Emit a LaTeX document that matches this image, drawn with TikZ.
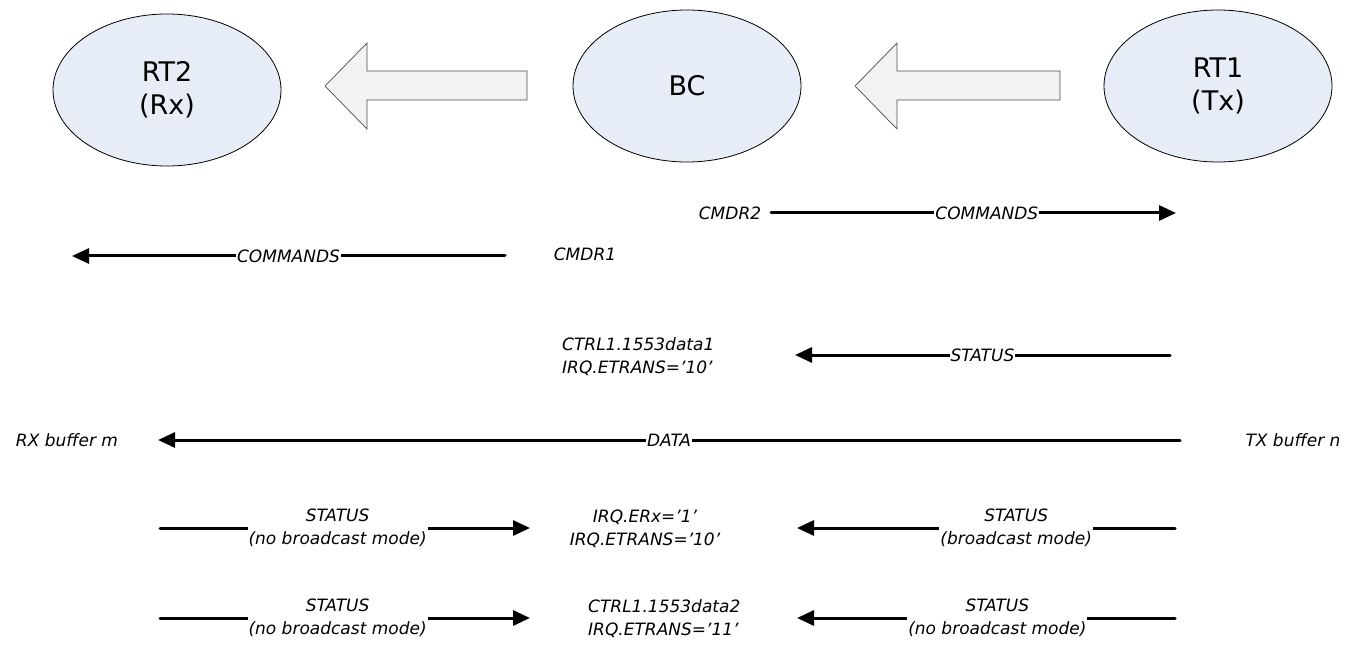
\documentclass[tikz,border=0pt]{standalone}
\usepackage{fontspec}
\setmainfont{DejaVu Sans}
\usetikzlibrary{arrows.meta,shapes.geometric}
\definecolor{ellfill}{RGB}{231,237,247}
\definecolor{arrfill}{RGB}{242,242,242}
\begin{document}
\begin{tikzpicture}[x=1pt,y=-1pt,
  ent/.style={ellipse, draw=black, line width=0.8pt, fill=ellfill, minimum width=228pt, minimum height=152pt, inner sep=0pt, align=center, font=\fontsize{27}{33}\selectfont},
  lbl/.style={font=\fontsize{17}{23}\selectfont\itshape, inner sep=0pt},
  tag/.style={lbl, fill=white, inner xsep=1pt, inner ysep=1pt, align=center},
  msg/.style={line width=3pt, line cap=round, -{Triangle[length=17pt,width=15pt]}},
  bus/.style={line width=3pt, line cap=round},
  blk/.style={draw=black!70, fill=arrfill, line width=0.7pt, line join=miter}
]
\useasboundingbox (0,0) rectangle (1362,668);

% entities
\node[ent] (rt2) at (167,90) {RT2\\(Rx)};
\node[ent] (bc) at (687,86) {BC};
\node[ent] (rt1) at (1218,86) {RT1\\(Tx)};

% block arrows
\draw[blk] (325,86) -- (367,43) -- (367,71) -- (527,71) -- (527,100) -- (367,100) -- (367,129) -- cycle;
\draw[blk] (855,86) -- (897,43) -- (897,71) -- (1060,71) -- (1060,100) -- (897,100) -- (897,129) -- cycle;

% row 1
\node[lbl] (cmdr2) at (730,213) {CMDR2};
\coordinate (r1s) at (771,213);
\coordinate (r1e) at (1176,213);
\draw[msg] (r1s) -- node[tag, pos=0.533] {COMMANDS} (r1e);

% row 2
\node[lbl] (cmdr1) at (585,254) {CMDR1};
\coordinate (r2s) at (505,256);
\coordinate (r2e) at (72,256);
\draw[msg] (r2s) -- node[tag, pos=0.5] {COMMANDS} (r2e);

% row 3
\node[lbl, anchor=west, align=left] (ctrl1) at (562,357) {CTRL1.1553data1\\IRQ.ETRANS='10'};
\coordinate (r3s) at (1170,355);
\coordinate (r3e) at (795,355);
\draw[msg] (r3s) -- node[tag, pos=0.5] {STATUS} (r3e);

% row 4
\node[lbl] (rxbuf) at (67,440) {RX buffer m};
\node[lbl] (txbuf) at (1293,440) {TX buffer n};
\coordinate (r4s) at (1180,440);
\coordinate (r4e) at (158,440);
\draw[msg] (r4s) -- node[tag, pos=0.5] {DATA} (r4e);

% row 5
\coordinate (r5ls) at (160,528);
\coordinate (r5le) at (530,528);
\draw[msg] (r5ls) -- node[tag, pos=0.48] {STATUS\\(no broadcast mode)} (r5le);
\node[lbl, align=center] (irq5) at (645,529) {IRQ.ERx='1'\\IRQ.ETRANS='10'};
\coordinate (r5rs) at (1175,528);
\coordinate (r5re) at (797,528);
\draw[msg] (r5rs) -- node[tag, pos=0.42] {STATUS\\(broadcast mode)} (r5re);

% row 6
\coordinate (r6ls) at (160,618);
\coordinate (r6le) at (530,618);
\draw[msg] (r6ls) -- node[tag, pos=0.48] {STATUS\\(no broadcast mode)} (r6le);
\node[lbl, anchor=west, align=left] (ctrl2) at (588,619) {CTRL1.1553data2\\IRQ.ETRANS='11'};
\coordinate (r6rs) at (1175,618);
\coordinate (r6re) at (797,618);
\draw[msg] (r6rs) -- node[tag, pos=0.47] {STATUS\\(no broadcast mode)} (r6re);
\end{tikzpicture}
\end{document}
